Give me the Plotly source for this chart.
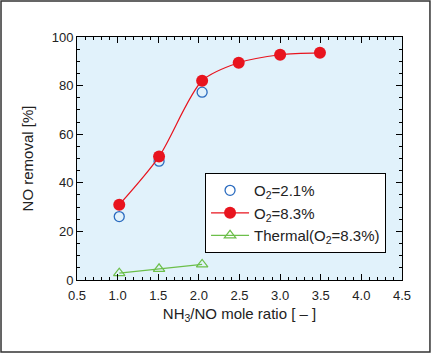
import plotly.graph_objects as go

x_o21 = [1.02, 1.51, 2.04]
y_o21 = [26.1, 48.9, 77.3]
x_o83 = [1.02, 1.51, 2.04, 2.49, 3.0, 3.49]
y_o83 = [31.0, 50.8, 82.0, 89.4, 92.7, 93.5]
x_th = [1.02, 1.51, 2.04]
y_th = [2.8, 4.6, 6.4]

fig = go.Figure()
fig.add_trace(go.Scatter(x=x_o21, y=y_o21, mode="markers", name="O<sub>2</sub>=2.1%",
                         marker=dict(symbol="circle-open", size=10, color="#2a6bbf", line=dict(width=1.3))))
fig.add_trace(go.Scatter(x=x_o83, y=y_o83, mode="lines+markers", name="O<sub>2</sub>=8.3%",
                         line=dict(color="#e8141e", width=1.2, shape="spline", smoothing=0.8),
                         marker=dict(symbol="circle", size=12, color="#e8141e")))
fig.add_trace(go.Scatter(x=x_th, y=y_th, mode="lines+markers", name="Thermal(O<sub>2</sub>=8.3%)",
                         line=dict(color="#6cbf4a", width=1.2),
                         marker=dict(symbol="triangle-up-open", size=10, color="#6cbf4a", line=dict(width=1.2))))

axis_common = dict(showline=True, linecolor="black", linewidth=1, mirror="allticks",
                   ticks="inside", tickcolor="black", ticklen=6, showgrid=False, zeroline=False,
                   tickfont=dict(family="Liberation Sans, Arial", size=13, color="#222"))
fig.update_xaxes(range=[0.5, 4.5], tickvals=[0.5,1.0,1.5,2.0,2.5,3.0,3.5,4.0,4.5],
                 ticktext=["0.5","1.0","1.5","2.0","2.5","3.0","3.5","4.0","4.5"],
                 ticklabelstandoff=3,
                 minor=dict(dtick=0.1, ticks="inside", ticklen=3, tickcolor="black"),
                 title=dict(text="NH<sub>3</sub>/NO mole ratio [ – ]", font=dict(family="Liberation Sans, Arial", size=15, color="#222"), standoff=6),
                 **axis_common)
fig.update_yaxes(range=[0, 100], dtick=20,
                 minor=dict(dtick=5, ticks="inside", ticklen=3, tickcolor="black"),
                 title=dict(text="NO removal [%]", font=dict(family="Liberation Sans, Arial", size=15, color="#222"), standoff=14),
                 **axis_common)

fig.update_layout(
    width=431, height=353,
    margin=dict(l=77, r=29, t=37, b=73),
    paper_bgcolor="white", plot_bgcolor="#e1f2fb",
    showlegend=True,
    legend=dict(x=0.394, y=0.44, xanchor="left", yanchor="top", bgcolor="white",
                bordercolor="black", borderwidth=1, tracegroupgap=0,
                font=dict(family="Liberation Sans, Arial", size=15, color="#222"), itemwidth=38),
    shapes=[dict(type="rect", xref="paper", yref="paper", x0=-0.2338, x1=1.086, y0=-0.296, y1=1.148,
                 line=dict(color="#333", width=1.5))],
)
fig.write_html("out.html")
